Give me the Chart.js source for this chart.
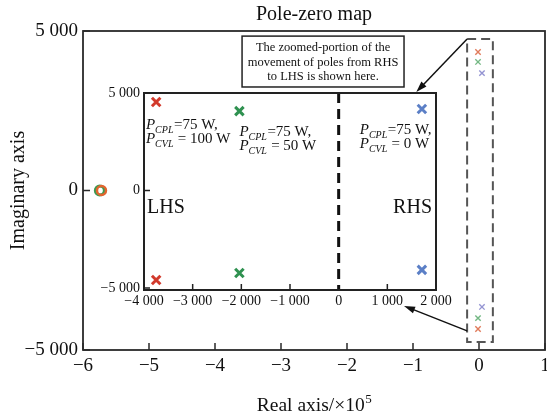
<!DOCTYPE html>
<html>
<head>
<meta charset="utf-8">
<script src="https://cdn.jsdelivr.net/npm/chart.js@4.4.1/dist/chart.umd.min.js"></script>
<style>
html, body { margin: 0; padding: 0; background: #fff; }
#wrap { position: relative; width: 547px; height: 417px; }
#main { position: absolute; left: 0; top: 0; }
#inset { position: absolute; left: 95px; top: 80px; }
</style>
</head>
<body>
<div id="wrap">
  <canvas id="main" width="547" height="417"></canvas>
  <canvas id="inset" width="365" height="235"></canvas>
</div>
<script>
// values
// main map: real axis in units of 1e5
var ringX = [-5.72, -5.745];            // orange ring, green ring
var ringY = [0, 0];
var poleX = [-0.015, -0.015, 0.045];    // P_CVL = 100 W, 50 W, 0 W
var poleUpY = [4340, 4030, 3680];
var poleDownY = [-4340, -4000, -3650];
// zoomed part: real axis in plain units
var zoomX = [-3750, -2040, 1710];
var zoomUpY = [4540, 4070, 4180];
var zoomDownY = [-4590, -4230, -4070];
var cvlText = ["100 W", "50 W", "0 W"];
var mainXTicks = [-6, -5, -4, -3, -2, -1, 0, 1];
var mainYTicks = [-5000, 0, 5000];
var zoomXTicks = [-4000, -3000, -2000, -1000, 0, 1000, 2000];
var zoomYTicks = [-5000, 0, 5000];

var SERIF = '"Liberation Serif", "Times New Roman", serif';
var mainColors = ["#e07a5a", "#74b884", "#9494d2"];
var zoomColors = ["#d23a2c", "#2f9150", "#5b7fc6"];

function fmt(v) {
    var s = String(Math.abs(v)).replace(/\B(?=(\d{3})+(?!\d))/g, " ");
    return (v < 0 ? "\u2212" : "") + s;
}
function setTicks(list) {
    return function (scale) {
        scale.ticks = list.map(function (v) { return { value: v }; });
    };
}
function arrow(ctx, x0, y0, x1, y1) {
    var a = Math.atan2(y1 - y0, x1 - x0);
    ctx.beginPath();
    ctx.moveTo(x0, y0);
    ctx.lineTo(x1 - 8 * Math.cos(a), y1 - 8 * Math.sin(a));
    ctx.stroke();
    ctx.beginPath();
    ctx.moveTo(x1, y1);
    ctx.lineTo(x1 - 11 * Math.cos(a) + 3.5 * Math.sin(a), y1 - 11 * Math.sin(a) - 3.5 * Math.cos(a));
    ctx.lineTo(x1 - 11 * Math.cos(a) - 3.5 * Math.sin(a), y1 - 11 * Math.sin(a) + 3.5 * Math.cos(a));
    ctx.closePath();
    ctx.fill();
}
function drawP(ctx, x, y, sub, rest) {
    ctx.font = "italic 15px " + SERIF;
    ctx.fillText("P", x, y);
    var w = ctx.measureText("P").width;
    ctx.font = "italic 10px " + SERIF;
    ctx.fillText(sub, x + w, y + 4);
    w += ctx.measureText(sub).width;
    ctx.font = "15px " + SERIF;
    ctx.fillText(rest, x + w + 0.5, y);
}

var mainDecor = {
    id: "mainDecor",
    afterDraw: function (chart) {
        var ctx = chart.ctx, a = chart.chartArea, x = chart.scales.x, y = chart.scales.y;
        ctx.save();
        ctx.strokeStyle = "#2a2a2a";
        ctx.lineWidth = 1.8;
        ctx.strokeRect(a.left, a.top, a.right - a.left, a.bottom - a.top);
        ctx.lineWidth = 1.5;
        ctx.beginPath();
        mainXTicks.forEach(function (v) {
            var px = x.getPixelForValue(v);
            ctx.moveTo(px, a.bottom); ctx.lineTo(px, a.bottom - 7);
        });
        mainYTicks.forEach(function (v) {
            var py = y.getPixelForValue(v);
            ctx.moveTo(a.left, py); ctx.lineTo(a.left + 7, py);
        });
        ctx.stroke();

        // dashed box round the poles near the axis
        var bx0 = x.getPixelForValue(-0.18), bx1 = x.getPixelForValue(0.21);
        var by0 = y.getPixelForValue(4750), by1 = y.getPixelForValue(-4750);
        ctx.setLineDash([9, 5]);
        ctx.strokeStyle = "#555";
        ctx.lineWidth = 2;
        ctx.strokeRect(bx0, by0, bx1 - bx0, by1 - by0);
        ctx.setLineDash([]);

        // arrows to the zoomed part
        ctx.strokeStyle = "#111";
        ctx.fillStyle = "#111";
        ctx.lineWidth = 1.5;
        arrow(ctx, bx0, by0, x.getPixelForValue(-0.95), y.getPixelForValue(3090));
        arrow(ctx, bx0, y.getPixelForValue(-4400), x.getPixelForValue(-1.136), y.getPixelForValue(-3620));

        // note box
        var nx0 = x.getPixelForValue(-3.59), nx1 = x.getPixelForValue(-1.136);
        var ny0 = y.getPixelForValue(4840), ny1 = y.getPixelForValue(3245);
        ctx.fillStyle = "#fff";
        ctx.fillRect(nx0, ny0, nx1 - nx0, ny1 - ny0);
        ctx.strokeStyle = "#222";
        ctx.lineWidth = 1.5;
        ctx.strokeRect(nx0, ny0, nx1 - nx0, ny1 - ny0);
        ctx.fillStyle = "#111";
        ctx.font = "12.5px " + SERIF;
        ctx.textAlign = "center";
        ctx.textBaseline = "middle";
        var ncx = (nx0 + nx1) / 2;
        ctx.fillText("The zoomed-portion of the", ncx, ny0 + 12);
        ctx.fillText("movement of poles from RHS", ncx, ny0 + 26.5);
        ctx.fillText("to LHS is shown here.", ncx, ny0 + 41);

        // titles
        var cx = (a.left + a.right) / 2;
        ctx.font = "20px " + SERIF;
        ctx.fillText("Pole-zero map", cx, 15);
        ctx.save();
        ctx.translate(19, (a.top + a.bottom) / 2);
        ctx.rotate(-Math.PI / 2);
        ctx.fillText("Imaginary axis", 0, 0);
        ctx.restore();
        ctx.textAlign = "left";
        ctx.textBaseline = "alphabetic";
        ctx.font = "19.5px " + SERIF;
        var t1 = "Real axis/\u00d710";
        var w1 = ctx.measureText(t1).width;
        ctx.font = "13px " + SERIF;
        var w2 = ctx.measureText("5").width;
        var sx = cx - (w1 + w2) / 2;
        ctx.font = "19.5px " + SERIF;
        ctx.fillText(t1, sx, 411);
        ctx.font = "13px " + SERIF;
        ctx.fillText("5", sx + w1 + 0.5, 403);
        ctx.restore();
    }
};

var zoomDecor = {
    id: "zoomDecor",
    beforeDraw: function (chart) {
        var ctx = chart.ctx, a = chart.chartArea;
        ctx.save();
        ctx.fillStyle = "#fff";
        ctx.fillRect(a.left, a.top, a.right - a.left, a.bottom - a.top);
        ctx.restore();
    },
    beforeDatasetsDraw: function (chart) {
        var ctx = chart.ctx, a = chart.chartArea, x = chart.scales.x;
        var px = x.getPixelForValue(0);
        ctx.save();
        ctx.strokeStyle = "#111";
        ctx.lineWidth = 3;
        ctx.setLineDash([10, 6]);
        ctx.beginPath();
        ctx.moveTo(px, a.top); ctx.lineTo(px, a.bottom);
        ctx.stroke();
        ctx.restore();
    },
    afterDraw: function (chart) {
        var ctx = chart.ctx, a = chart.chartArea, x = chart.scales.x, y = chart.scales.y;
        ctx.save();
        ctx.strokeStyle = "#222";
        ctx.lineWidth = 2;
        ctx.strokeRect(a.left, a.top, a.right - a.left, a.bottom - a.top);
        ctx.lineWidth = 1.5;
        ctx.beginPath();
        zoomXTicks.forEach(function (v) {
            if (v === 0) return;
            var px = x.getPixelForValue(v);
            ctx.moveTo(px, a.bottom); ctx.lineTo(px, a.bottom - 6);
        });
        zoomYTicks.forEach(function (v) {
            var py = y.getPixelForValue(v);
            ctx.moveTo(a.left, py); ctx.lineTo(a.left + 6, py);
        });
        ctx.stroke();

        ctx.fillStyle = "#111";
        ctx.textAlign = "left";
        ctx.textBaseline = "alphabetic";
        var spots = [[-3960, 3163, 2449], [-2040, 2806, 2092], [433, 2908, 2194]];
        spots.forEach(function (s, i) {
            var px = x.getPixelForValue(s[0]);
            drawP(ctx, px, y.getPixelForValue(s[1]), "CPL", "=75 W,");
            drawP(ctx, px, y.getPixelForValue(s[2]), "CVL", " = " + cvlText[i]);
        });

        ctx.font = "20px " + SERIF;
        ctx.textBaseline = "middle";
        ctx.fillText("LHS", x.getPixelForValue(-3938), y.getPixelForValue(-867));
        ctx.textAlign = "right";
        ctx.fillText("RHS", x.getPixelForValue(1918), y.getPixelForValue(-867));
        ctx.restore();
    }
};

function poleSets(xs, ups, downs, colors, r, bw) {
    return xs.map(function (v, i) {
        return {
            label: "P_CVL = " + cvlText[i],
            data: [{ x: v, y: ups[i] }, { x: v, y: downs[i] }],
            pointStyle: "crossRot",
            pointRadius: r,
            pointBorderWidth: bw,
            borderColor: colors[i],
            backgroundColor: colors[i],
            showLine: false
        };
    });
}

var baseOptions = {
    responsive: false,
    animation: false,
    events: [],
    plugins: { legend: { display: false }, tooltip: { enabled: false } }
};

// first dataset is painted last, so the orange ring sits on top
var mainSets = [
    {
        label: "orange ring",
        data: [{ x: ringX[0], y: ringY[0] }],
        pointStyle: "circle", pointRadius: 4.5, pointBorderWidth: 2.5,
        borderColor: "#e2652f", backgroundColor: "rgba(0,0,0,0)"
    },
    {
        label: "green ring",
        data: [{ x: ringX[1], y: ringY[1] }],
        pointStyle: "circle", pointRadius: 4.5, pointBorderWidth: 3,
        borderColor: "#3d9a52", backgroundColor: "rgba(0,0,0,0)"
    }
].concat(poleSets(poleX, poleUpY, poleDownY, mainColors, 3.8, 1.4));

new Chart(document.getElementById("main").getContext("2d"), {
    type: "scatter",
    data: { datasets: mainSets },
    options: Object.assign({}, baseOptions, {
        layout: { autoPadding: false, padding: { top: 31, right: 2, left: 0, bottom: 0 } },
        scales: {
            x: {
                type: "linear", min: -6, max: 1,
                afterBuildTicks: setTicks(mainXTicks),
                afterFit: function (s) { s.height = 67; s.paddingLeft = 0; s.paddingRight = 0; },
                grid: { display: false, drawTicks: false },
                border: { display: false },
                ticks: { padding: 5, color: "#111", font: { family: SERIF, size: 19 }, callback: fmt, maxRotation: 0 }
            },
            y: {
                type: "linear", min: -5000, max: 5000,
                afterBuildTicks: setTicks(mainYTicks),
                afterFit: function (s) { s.width = 83; s.paddingTop = 0; s.paddingBottom = 0; },
                grid: { display: false, drawTicks: false },
                border: { display: false },
                ticks: { padding: 5, color: "#111", font: { family: SERIF, size: 19 }, callback: fmt }
            }
        }
    }),
    plugins: [mainDecor]
});

new Chart(document.getElementById("inset").getContext("2d"), {
    type: "scatter",
    data: { datasets: poleSets(zoomX, zoomUpY, zoomDownY, zoomColors, 6, 3) },
    options: Object.assign({}, baseOptions, {
        layout: { autoPadding: false, padding: { top: 13, right: 24, left: 0, bottom: 0 } },
        scales: {
            x: {
                type: "linear", min: -4000, max: 2000,
                afterBuildTicks: setTicks(zoomXTicks),
                afterFit: function (s) { s.height = 25; s.paddingLeft = 0; s.paddingRight = 0; },
                grid: { display: false, drawTicks: false },
                border: { display: false },
                ticks: { padding: 3, color: "#111", font: { family: SERIF, size: 14 }, callback: fmt, maxRotation: 0, autoSkip: false }
            },
            y: {
                type: "linear", min: -5100, max: 5000,
                afterBuildTicks: setTicks(zoomYTicks),
                afterFit: function (s) { s.width = 49; s.paddingTop = 0; s.paddingBottom = 0; },
                grid: { display: false, drawTicks: false },
                border: { display: false },
                ticks: { padding: 4, color: "#111", font: { family: SERIF, size: 14 }, callback: fmt }
            }
        }
    }),
    plugins: [zoomDecor]
});
</script>
</body>
</html>
